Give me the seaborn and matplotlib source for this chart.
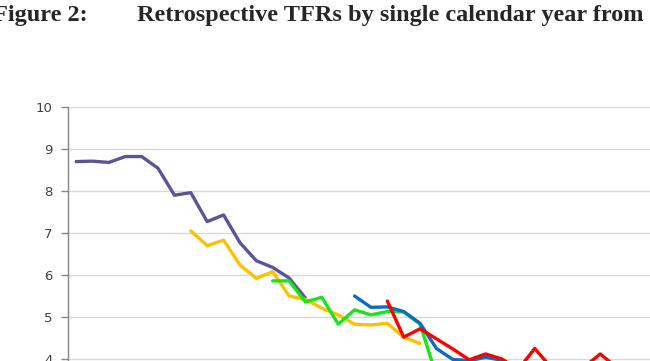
import pandas as pd
import matplotlib.pyplot as plt
import seaborn as sns

# Calendar years on the category axis (first plotted year first)
years = list(range(1965, 2005))

# Retrospective TFR series, each starting at a given year
purple_start = 1965
purple = [8.70, 8.71, 8.68, 8.82, 8.82, 8.54, 7.90, 7.96, 7.27, 7.43,
          6.77, 6.34, 6.18, 5.93, 5.45]
yellow_start = 1972
yellow = [7.05, 6.70, 6.83, 6.24, 5.92, 6.08, 5.50, 5.42, 5.21, 5.05,
          4.83, 4.81, 4.85, 4.52, 4.37]
green_start = 1977
green = [5.86, 5.86, 5.36, 5.47, 4.83, 5.17, 5.05, 5.13, 5.12, 4.83,
         3.60, 3.50]
blue_start = 1982
blue = [5.50, 5.23, 5.24, 5.13, 4.85, 4.25, 3.99, 3.96, 4.04, 3.97,
        3.75, 3.70]
red_start = 1984
red = [5.38, 4.52, 4.72, 4.48, 4.24, 3.98, 4.12, 4.00, 3.75, 4.25,
       3.80, 3.70, 3.80, 4.12, 3.80, 3.70, 3.90]

series = {
    'Survey 1': (purple_start, purple),
    'Survey 2': (yellow_start, yellow),
    'Survey 3': (green_start, green),
    'Survey 4': (blue_start, blue),
    'Survey 5': (red_start, red),
}
colors = {'Survey 1': '#5b5597', 'Survey 2': '#ffc000', 'Survey 3': '#19e619',
          'Survey 4': '#0a6cc4', 'Survey 5': '#ff0000'}

rows = []
for name, (start, vals) in series.items():
    for i, v in enumerate(vals):
        rows.append({'year': start + i, 'tfr': v, 'survey': name})
data = pd.DataFrame(rows)

sns.set_style('white')
plt.rcParams['font.family'] = ['DejaVu Sans']

fig = plt.figure(figsize=(6.5, 3.61), dpi=100)
# the chart continues below and to the right of the visible area
ax = fig.add_axes([68 / 650, -0.4598, 655 / 650, 420 / 361])

sns.lineplot(data=data, x='year', y='tfr', hue='survey', palette=colors,
             hue_order=list(series.keys()), estimator=None, linewidth=2.4,
             legend=False, ax=ax)

ax.set_xlim(years[0] - 0.5, years[-1] + 0.5)
ax.set_ylim(0, 10)
ax.set_yticks(range(0, 11))
ax.yaxis.grid(True, color='#d9d9d9', linewidth=1)
ax.set_axisbelow(True)
ax.set_xticks([])
ax.set_xlabel('')
ax.set_ylabel('')
for s in ['top', 'right', 'bottom']:
    ax.spines[s].set_visible(False)
ax.spines['left'].set_color('#868686')
ax.spines['left'].set_linewidth(1)
ax.tick_params(axis='y', direction='out', length=5, width=1, color='#868686',
               labelsize=9.5, labelcolor='#404040', pad=6, left=True)

fig.text(88 / 650, 1 - 21 / 361, 'Figure 2:', family='Liberation Serif',
         weight='bold', fontsize=17.5, va='baseline', ha='right')
fig.text(137 / 650, 1 - 21 / 361, 'Retrospective TFRs by single calendar year from',
         family='Liberation Serif', weight='bold', fontsize=17.5, va='baseline', ha='left')

plt.savefig('out.png', dpi=100)
